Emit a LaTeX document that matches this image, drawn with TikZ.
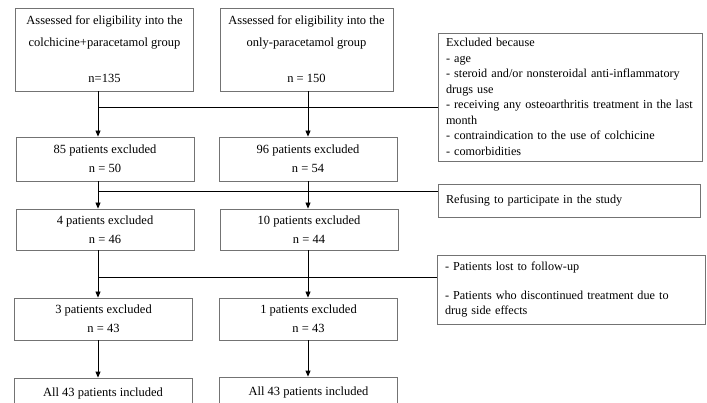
\documentclass[tikz,border=0pt]{standalone}
\usepackage{fontspec}
\setmainfont{Liberation Serif}
\usetikzlibrary{arrows.meta}

\begin{document}
\begin{tikzpicture}[x=1pt, y=-1pt, font=\fontsize{12.5}{15.5}\selectfont,
		main/.style = {draw=black!55, line width=0.8pt, align=center, inner sep=0pt, minimum width=178pt},
		side/.style = {draw=black!55, line width=0.8pt, align=left, text width=#1, inner xsep=8pt, inner ysep=0pt, font=\fontsize{12.2}{15.5}\selectfont},
		arr/.style = {-{Triangle[length=6pt,width=5pt]}, line width=0.8pt},
		link/.style = {line width=0.8pt}]
		\useasboundingbox (0,0) rectangle (707,403);
		\clip (0,0) rectangle (707,403);
		% colchicine+paracetamol column
		\node[main, minimum height=83pt] (c1) at (104.5,49.5) {Assessed for eligibility into the\\[6.5pt]colchicine+paracetamol group\\[20.5pt]n=135};
		\node[main, minimum height=44pt] (c2) at (105,159) {85 patients excluded\\[3.5pt]n = 50};
		\node[main, minimum height=41pt] (c3) at (105,229.5) {4 patients excluded\\[3.5pt]n = 46};
		\node[main, minimum height=42pt] (c4) at (103.5,319) {3 patients excluded\\[3.5pt]n = 43};
		\node[main, minimum height=30pt] (c5) at (103,393) {All 43 patients included};
		% only-paracetamol column
		\node[main, minimum width=173pt, minimum height=83pt] (p1) at (306.5,49.5) {Assessed for eligibility into the\\[6.5pt]only-paracetamol group\\[20.5pt]n = 150};
		\node[main, minimum height=44pt] (p2) at (308,159) {96 patients excluded\\[3.5pt]n = 54};
		\node[main, minimum height=41pt] (p3) at (309,229.5) {10 patients excluded\\[3.5pt]n = 44};
		\node[main, minimum height=42pt] (p4) at (308.5,319) {1 patients excluded\\[3.5pt]n = 43};
		\node[main, minimum height=30pt] (p5) at (308.5,392) {All 43 patients included};
		% reasons
		\node[side=248pt, minimum height=128pt] (ex1) at (570,97) {Excluded because\\- age\\- steroid and/or nonsteroidal anti-inflammatory\\drugs use\\\mbox{- receiving any osteoarthritis treatment in the last}\\month\\- contraindication to the use of colchicine\\- comorbidities};
		\node[side=246pt, minimum height=33pt] (ex2) at (569,200.5) {Refusing to participate in the study};
		\node[side=252pt, minimum height=69pt] (ex3) at (571,289.5) {- Patients lost to follow-up\\[13.5pt]- Patients who discontinued treatment due to\\drug side effects};
		\coordinate (lx) at (98,0);
		\coordinate (mx) at (308,0);
		\coordinate (j1) at (98,107);
		\coordinate (j2) at (98,191);
		\coordinate (j3) at (98,277);
		\draw[arr] (c1.south -| lx) -- (c2.north -| lx);
		\draw[arr] (c2.south -| lx) -- (c3.north -| lx);
		\draw[arr] (c3.south -| lx) -- (c4.north -| lx);
		\draw[arr] (c4.south -| lx) -- (c5.north -| lx);
		\draw[arr] (p1.south -| mx) -- (p2.north -| mx);
		\draw[arr] (p2.south -| mx) -- (p3.north -| mx);
		\draw[arr] (p3.south -| mx) -- (p4.north -| mx);
		\draw[arr] (p4.south -| mx) -- (p5.north -| mx);
		\draw[link] (j1) -- (j1 -| ex1.west);
		\draw[link] (j2) -- (j2 -| ex2.west);
		\draw[link] (j3) -- (j3 -| ex3.west);
	\end{tikzpicture}
\end{document}
